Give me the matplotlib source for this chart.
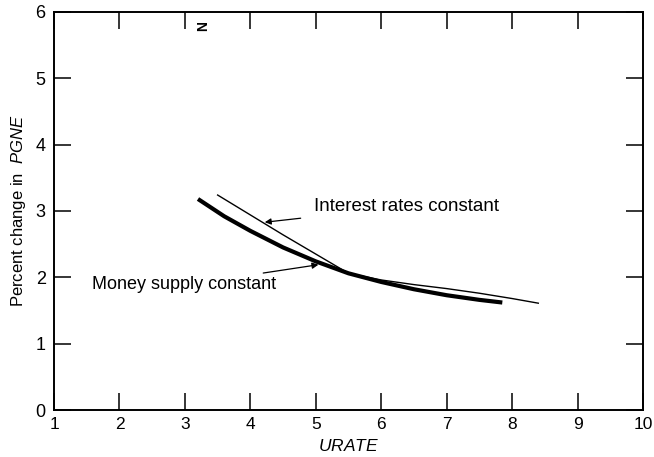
import matplotlib
matplotlib.use("Agg")
import matplotlib.pyplot as plt

plt.rcParams['font.family'] = ['Liberation Sans', 'DejaVu Sans']
plt.rcParams['mathtext.fontset'] = 'custom'
plt.rcParams['mathtext.it'] = 'Liberation Sans:italic'
plt.rcParams['mathtext.rm'] = 'Liberation Sans'

# money supply constant (heavy curve)
money_x = [3.2, 3.6, 4.0, 4.5, 5.0, 5.5, 6.0, 6.5, 7.0, 7.5, 7.85]
money_y = [3.18, 2.92, 2.70, 2.45, 2.24, 2.06, 1.93, 1.82, 1.73, 1.66, 1.62]

# interest rates constant (light curve)
interest_x = [3.5, 4.0, 4.5, 5.0, 5.5, 6.0, 6.5, 7.0, 7.5, 8.0, 8.4]
interest_y = [3.24, 2.94, 2.64, 2.35, 2.06, 1.96, 1.89, 1.83, 1.76, 1.68, 1.61]

x_ticks = [1, 2, 3, 4, 5, 6, 7, 8, 9, 10]
y_ticks = [0, 1, 2, 3, 4, 5, 6]

fig = plt.figure(figsize=(6.54, 4.57), dpi=100)
ax = fig.add_axes([0.0826, 0.1028, 0.9006, 0.8712])

ax.plot(money_x, money_y, color='black', linewidth=3.0, solid_capstyle='butt')
ax.plot(interest_x, interest_y, color='black', linewidth=1.0)

ax.set_xlim(1, 10)
ax.set_ylim(0, 6)
ax.set_xticks(x_ticks)
ax.set_yticks(y_ticks)
ax.tick_params(direction='in', length=12, width=1.1, labelsize=12.5,
               top=True, right=True, pad=5)
ax.tick_params(axis='y', pad=6, labelsize=13)
for sp in ax.spines.values():
    sp.set_linewidth(1.4)

ax.annotate('Interest rates constant', xy=(4.22, 2.83), xytext=(4.98, 3.07),
            fontsize=13.5, va='center', ha='left',
            arrowprops=dict(arrowstyle='-|>', color='black', lw=0.9,
                            mutation_scale=9, shrinkA=8, shrinkB=0))
ax.annotate('Money supply constant', xy=(5.04, 2.19), xytext=(4.40, 1.885),
            fontsize=13, va='center', ha='right',
            arrowprops=dict(arrowstyle='-|>', color='black', lw=0.9,
                            mutation_scale=9, shrinkA=3, shrinkB=0))

ax.text(3.28, 5.78, 'N', rotation=90, fontsize=10, fontweight='bold',
        ha='center', va='center')

ax.set_xlabel('$\\it{URATE}$', fontsize=12.5, labelpad=4)
fig.text(0.028, 0.538, 'Percent change in  $\\it{PGNE}$', rotation=90,
         fontsize=12, ha='center', va='center')

fig.savefig('out.png', dpi=100)
